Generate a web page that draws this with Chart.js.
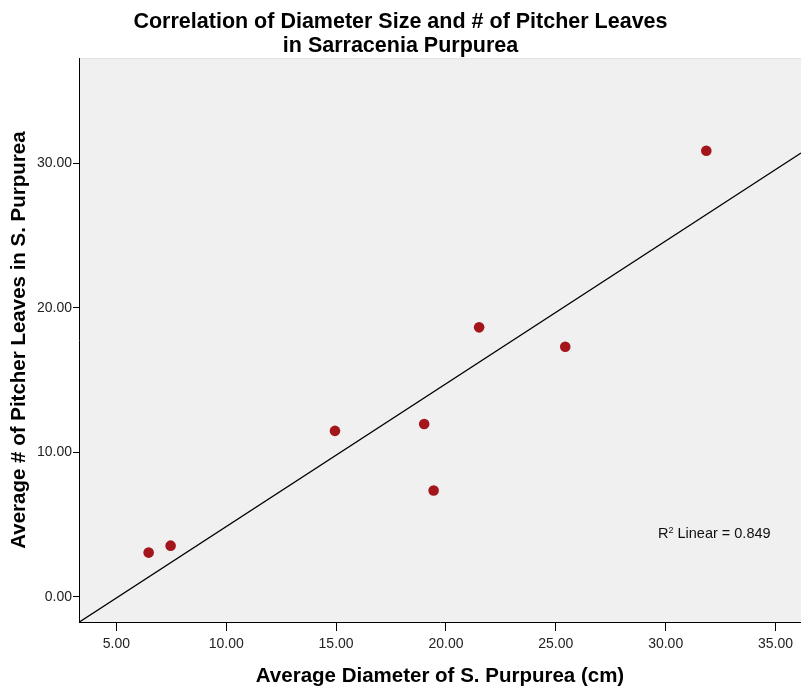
<!DOCTYPE html>
<html>
<head>
<meta charset="utf-8">
<script src="https://cdn.jsdelivr.net/npm/chart.js@4/dist/chart.umd.min.js"></script>
<style>
  html, body { margin: 0; padding: 0; background: #fff; }
  #wrap { width: 801px; height: 689px; }
</style>
</head>
<body>
<div id="wrap"><canvas id="chart" width="801" height="689"></canvas></div>
<script>
/* ─── Data ─────────────────────────────────────────────────────────────── */
const diameters = [6.47, 7.47, 14.95, 19.01, 19.44, 21.51, 25.43, 31.85];
const leaves    = [3.07, 3.55, 11.49, 11.97, 7.37, 18.65, 17.31, 30.87];
const xTicks    = [5, 10, 15, 20, 25, 30, 35];
const yTicks    = [0, 10, 20, 30];
const xRange    = [3.3, 36.16];
const yRange    = [-1.73, 37.27];
const r2Label   = { x: 29.65, y: 4.1, value: '0.849' };

/* ─── Least-squares fit line ───────────────────────────────────────────── */
const n = diameters.length;
const mx = diameters.reduce((a, b) => a + b, 0) / n;
const my = leaves.reduce((a, b) => a + b, 0) / n;
let sxy = 0, sxx = 0;
diameters.forEach((x, i) => { sxy += (x - mx) * (leaves[i] - my); sxx += (x - mx) ** 2; });
const slope = sxy / sxx;
const intercept = my - slope * mx;
const fitLine = xRange.map(x => ({ x, y: intercept + slope * x }));

const FONT = "'Liberation Sans', Arial, sans-serif";

// plot-area background + faint top border
const plotBg = {
  id: 'plotBg',
  beforeDraw(chart) {
    const { ctx, chartArea: a } = chart;
    ctx.save();
    ctx.fillStyle = '#F0F0F0';
    ctx.fillRect(a.left, a.top, a.right - a.left, a.bottom - a.top);
    ctx.strokeStyle = '#E2E2E2';
    ctx.lineWidth = 1;
    ctx.beginPath();
    ctx.moveTo(a.left, a.top + 0.5);
    ctx.lineTo(a.right, a.top + 0.5);
    ctx.stroke();
    ctx.restore();
  }
};

// "R² Linear = 0.849" label
const r2Text = {
  id: 'r2Text',
  afterDatasetsDraw(chart) {
    const { ctx, scales } = chart;
    const px = scales.x.getPixelForValue(r2Label.x);
    const py = scales.y.getPixelForValue(r2Label.y);
    ctx.save();
    ctx.fillStyle = '#111';
    ctx.textBaseline = 'alphabetic';
    ctx.font = '14.5px ' + FONT;
    ctx.fillText('R', px, py);
    let w = ctx.measureText('R').width;
    ctx.font = '9px ' + FONT;
    ctx.fillText('2', px + w, py - 5);
    w += ctx.measureText('2').width;
    ctx.font = '14.5px ' + FONT;
    ctx.fillText(' Linear = ' + r2Label.value, px + w, py);
    ctx.restore();
  }
};

new Chart(document.getElementById('chart'), {
  type: 'scatter',
  data: {
    datasets: [
      {
        label: 'Observed',
        data: diameters.map((x, i) => ({ x, y: leaves[i] })),
        backgroundColor: '#A3161B',
        borderWidth: 0,
        pointRadius: 5.3,
        order: 1
      },
      {
        type: 'line',
        label: 'Fit',
        data: fitLine,
        borderColor: '#000',
        borderWidth: 1.3,
        pointRadius: 0,
        fill: false,
        order: 2
      }
    ]
  },
  options: {
    responsive: false,
    animation: false,
    layout: { padding: 0, autoPadding: false },
    plugins: {
      legend: { display: false },
      tooltip: { enabled: false },
      title: {
        display: true,
        text: ['Correlation of Diameter Size and # of Pitcher Leaves', 'in Sarracenia Purpurea'],
        color: '#000',
        font: { family: FONT, size: 21.5, weight: 'bold', lineHeight: 1.12 },
        padding: { top: 10, bottom: 0 }
      }
    },
    scales: {
      x: {
        type: 'linear',
        min: xRange[0],
        max: xRange[1],
        afterBuildTicks: s => { s.ticks = xTicks.map(v => ({ value: v })); },
        afterFit: s => { s.height = 67; s.paddingLeft = 0; s.paddingRight = 0; },
        ticks: {
          callback: v => v.toFixed(2),
          color: '#222',
          font: { family: FONT, size: 14 },
          padding: 5,
          maxRotation: 0
        },
        grid: { drawOnChartArea: false, drawTicks: true, tickLength: 9, color: '#000' },
        border: { display: true, color: '#000', width: 1 },
        title: {
          display: true,
          text: 'Average Diameter of S. Purpurea (cm)',
          color: '#000',
          font: { family: FONT, size: 20.5, weight: 'bold' },
          padding: { top: 0, bottom: 0 }
        }
      },
      y: {
        type: 'linear',
        min: yRange[0],
        max: yRange[1],
        afterBuildTicks: s => { s.ticks = yTicks.map(v => ({ value: v })); },
        afterFit: s => { s.width = 79; s.paddingTop = 0; s.paddingBottom = 0; },
        ticks: {
          callback: v => v.toFixed(2),
          color: '#222',
          font: { family: FONT, size: 14 },
          padding: 1
        },
        grid: { drawOnChartArea: false, drawTicks: true, tickLength: 6, color: '#000' },
        border: { display: true, color: '#000', width: 1 },
        title: {
          display: true,
          text: 'Average # of Pitcher Leaves in S. Purpurea',
          color: '#000',
          font: { family: FONT, size: 20.5, weight: 'bold' },
          padding: { top: 7, bottom: 0 }
        }
      }
    }
  },
  plugins: [plotBg, r2Text]
});
</script>
</body>
</html>
